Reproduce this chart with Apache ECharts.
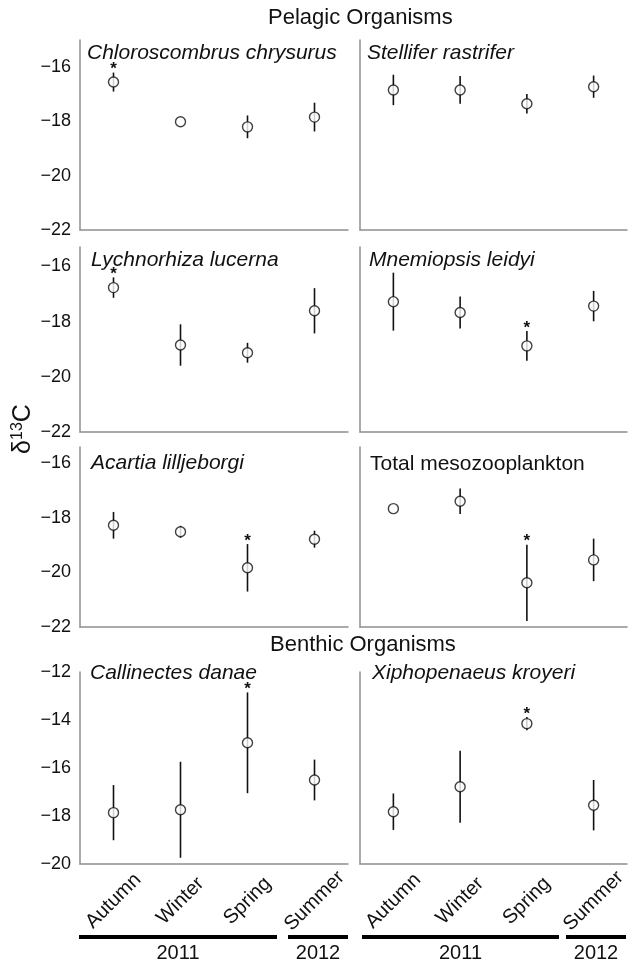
<!DOCTYPE html>
<html><head><meta charset="utf-8">
<script src="https://cdn.jsdelivr.net/npm/echarts@6/dist/echarts.min.js"></script>
<style>html,body{margin:0;padding:0;background:#fff}#c{width:635px;height:964px}</style>
</head><body><div id="c"></div>
<script>
// ---- data ----
const seasons = ['Autumn', 'Winter', 'Spring', 'Summer'];
const years = ['2011', '2012'];
const sectionTitles = ['Pelagic Organisms', 'Benthic Organisms'];
const speciesNames = ['Chloroscombrus chrysurus', 'Stellifer rastrifer', 'Lychnorhiza lucerna', 'Mnemiopsis leidyi',
  'Acartia lilljeborgi', 'Total mesozooplankton', 'Callinectes danae', 'Xiphopenaeus kroyeri'];
const italicNames = [true, true, true, true, true, false, true, true];

const chloroMean = [-16.55, -18.01, -18.2, -17.84];
const chloroErr  = [0.35, 0, 0.42, 0.53];
const chloroSig  = [1, 0, 0, 0];

const stelliferMean = [-16.84, -16.84, -17.35, -16.72];
const stelliferErr  = [0.56, 0.51, 0.36, 0.41];
const stelliferSig  = [0, 0, 0, 0];

const lychnoMean = [-16.77, -18.85, -19.13, -17.61];
const lychnoErr  = [0.37, 0.75, 0.36, 0.82];
const lychnoSig  = [1, 0, 0, 0];

const mnemiMean = [-17.28, -17.67, -18.88, -17.44];
const mnemiErr  = [1.05, 0.58, 0.54, 0.55];
const mnemiSig  = [0, 0, 1, 0];

const acartiaMean = [-18.27, -18.51, -19.83, -18.78];
const acartiaErr  = [0.49, 0.22, 0.87, 0.31];
const acartiaSig  = [0, 0, 1, 0];

const mesoMean = [-17.66, -17.39, -20.38, -19.54];
const mesoErr  = [0, 0.47, 1.4, 0.78];
const mesoSig  = [0, 0, 1, 0];

const callinMean = [-17.86, -17.74, -14.95, -16.5];
const callinErr  = [1.15, 2.0, 2.1, 0.85];
const callinSig  = [0, 0, 1, 0];

const xiphoMean = [-17.82, -16.78, -14.15, -17.55];
const xiphoErr  = [0.76, 1.5, 0.28, 1.05];
const xiphoSig  = [0, 0, 1, 0];

const yMin = [-22, -22, -22, -20];
const yMax = [-15, -15.3, -15.4, -12];

// ---- layout ----
const colLeft = [80, 360];
const colWidth = [268, 267];
const rowTop = [40, 247, 447, 672];
const rowHeight = [190, 185, 180, 192];
const FONT = "'Liberation Sans', Arial, sans-serif";
const AXIS_COLOR = '#8f8f8f';

const panels = [
  [chloroMean, chloroErr, chloroSig],
  [stelliferMean, stelliferErr, stelliferSig],
  [lychnoMean, lychnoErr, lychnoSig],
  [mnemiMean, mnemiErr, mnemiSig],
  [acartiaMean, acartiaErr, acartiaSig],
  [mesoMean, mesoErr, mesoSig],
  [callinMean, callinErr, callinSig],
  [xiphoMean, xiphoErr, xiphoSig]
];

const grid = [], xAxis = [], yAxis = [], series = [], titles = [];
const titleOffsets = [[7, 3], [7, 3], [11, 3], [9, 3], [11, 6], [10, 7], [10, -9], [12, -9]];

panels.forEach((p, i) => {
  const row = Math.floor(i / 2), col = i % 2;
  grid.push({ left: colLeft[col], width: colWidth[col], top: rowTop[row], height: rowHeight[row] });
  const bottomRow = row === 3;
  xAxis.push({
    type: 'category', data: seasons, gridIndex: i,
    axisLine: { lineStyle: { color: AXIS_COLOR, width: 1.5 } },
    axisTick: { show: false },
    axisLabel: bottomRow ? {
      show: true, rotate: 45, align: 'center', verticalAlign: 'middle', margin: 37,
      fontFamily: FONT, fontSize: 20, color: '#111'
    } : { show: false },
    splitLine: { show: false }
  });
  yAxis.push({
    type: 'value', gridIndex: i, min: yMin[row], max: yMax[row], interval: 2,
    axisLine: { show: true, lineStyle: { color: AXIS_COLOR, width: 1.5 } },
    axisTick: { show: false },
    splitLine: { show: false },
    axisLabel: {
      show: col === 0, showMaxLabel: bottomRow, showMinLabel: true, margin: 9,
      fontFamily: FONT, fontSize: 18, color: '#111',
      formatter: v => (Math.abs(v - Math.round(v)) < 1e-6 && Math.round(v) % 2 === 0) ? String(v).replace('-', '\u2212') : ''
    }
  });
  const [mean, err, sig] = p;
  series.push({
    type: 'custom', xAxisIndex: i, yAxisIndex: i, z: 2,
    data: mean.map((m, k) => [k, m - err[k], m + err[k], sig[k]]),
    renderItem: (params, api) => {
      const x = api.value(0);
      const lo = api.coord([x, api.value(1)]);
      const hi = api.coord([x, api.value(2)]);
      const children = [];
      if (api.value(2) - api.value(1) > 0) {
        children.push({ type: 'line', shape: { x1: hi[0], y1: hi[1], x2: lo[0], y2: lo[1] },
          style: { stroke: '#111', lineWidth: 1.6 } });
      }
      if (api.value(3)) {
        const top = api.value(2) - api.value(1) > 0 ? hi[1] : hi[1] - 5;
        children.push({ type: 'text', style: { text: '*', x: hi[0], y: top - 3,
          textAlign: 'center', textVerticalAlign: 'middle', fontSize: 17, fontWeight: 'bold',
          fontFamily: FONT, fill: '#111' } });
      }
      return { type: 'group', children };
    }
  });
  series.push({
    type: 'scatter', xAxisIndex: i, yAxisIndex: i, z: 5,
    symbol: 'circle', symbolSize: 10,
    itemStyle: { color: '#fff', borderColor: '#111', borderWidth: 1.4 },
    data: mean.map((m, k) => [k, m])
  });
  titles.push({
    text: speciesNames[i],
    left: colLeft[col] + titleOffsets[i][0], top: rowTop[row] + titleOffsets[i][1],
    textStyle: { fontFamily: FONT, fontSize: 21, fontWeight: 'normal',
      fontStyle: italicNames[i] ? 'italic' : 'normal', color: '#111' },
    padding: 0
  });
});

titles.push({ text: sectionTitles[0], left: 268, top: 7, padding: 0,
  textStyle: { fontFamily: FONT, fontSize: 22, fontWeight: 'normal', color: '#111' } });
titles.push({ text: sectionTitles[1], left: 270, top: 634, padding: 0,
  textStyle: { fontFamily: FONT, fontSize: 22, fontWeight: 'normal', color: '#111' } });

// year bars under the bottom row
const yearSpans = [[79, 277, 0], [288, 348, 1], [362, 559, 0], [566, 626, 1]];
const graphic = [];
yearSpans.forEach(([x1, x2, yi]) => {
  graphic.push({ type: 'line', shape: { x1, y1: 937, x2, y2: 937 }, style: { stroke: '#000', lineWidth: 4 } });
  graphic.push({ type: 'text', x: (x1 + x2) / 2, y: 953, style: { text: years[yi], textAlign: 'center',
    textVerticalAlign: 'middle', fontFamily: FONT, fontSize: 20, fill: '#111' } });
});
graphic.push({ type: 'text', x: 23, y: 429, rotation: Math.PI / 2,
  style: { text: '{a|\u03b4}{s|13}{a|C}', textAlign: 'center', textVerticalAlign: 'middle',
    rich: { a: { fontFamily: FONT, fontSize: 25, fill: '#111', verticalAlign: 'bottom' },
            s: { fontFamily: FONT, fontSize: 16, fill: '#111', verticalAlign: 'top', padding: [0, 0, 10, 0] } } } });

const chart = echarts.init(document.getElementById('c'), null, { renderer: 'canvas' });
chart.setOption({
  animation: false, backgroundColor: '#fff',
  title: titles, grid, xAxis, yAxis, series, graphic
});
</script></body></html>
